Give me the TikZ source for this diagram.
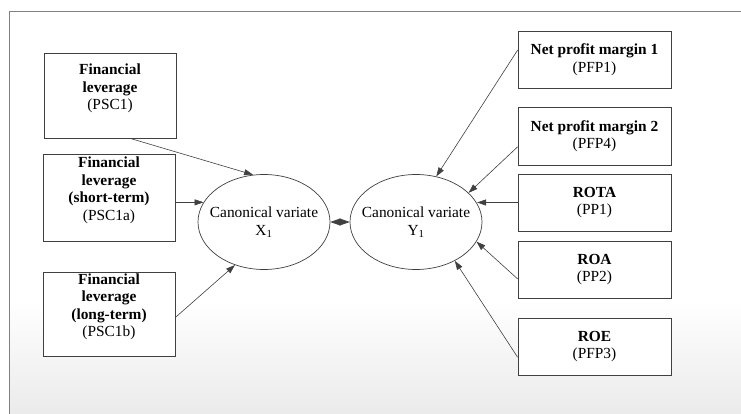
\documentclass[tikz,border=0pt]{standalone}
\usepackage{fontspec}
\setmainfont{Liberation Serif}
\usepackage{tikz}
\usetikzlibrary{shapes, arrows, positioning, arrows.meta, shadows}

\begin{document}
\begin{tikzpicture}[x=1pt, y=-1pt,
    font=\fontsize{15.4}{17.5}\selectfont,
    caja/.style={draw=black!75, fill=white, line width=0.7pt, align=center, inner sep=0pt,
        drop shadow={shadow xshift=1pt, shadow yshift=-1pt, opacity=0.2}},
    canonica/.style={ellipse, draw=black!75, fill=white, line width=0.7pt, align=center,
        minimum width=132pt, minimum height=95pt, inner xsep=-8pt, inner ysep=0pt},
    flecha/.style={draw=black!75, line width=0.6pt, -{Triangle[length=9pt, width=6pt]}}]
        % Fondo y marco
        \useasboundingbox (0,0) rectangle (741,414);
        \fill[white] (0,0) rectangle (741,414);
        \shade[top color=white, bottom color=black!8] (9,300) rectangle (741,414);
        \draw[black!50, line width=0.8pt] (741,11) -- (9,11) -- (9,414);
        % Variables canonicas
        \node[canonica] (X1) at (264,222) {Canonical variate\\X\textsubscript{1}};
        \node[canonica] (Y1) at (416,222) {Canonical variate\\Y\textsubscript{1}};
        % Cajas de la izquierda
        \node[caja, minimum width=132pt, minimum height=85pt] (fl1) at (110,95.5)
            {\textbf{Financial}\\\textbf{leverage}\\(PSC1)\\\mbox{}};
        \node[caja, minimum width=132pt, minimum height=87pt] (fl2) at (109,197.5)
            {\textbf{Financial}\\\textbf{leverage}\\\textbf{(short-term)}\\(PSC1a)\\\mbox{}};
        \node[caja, minimum width=132pt, minimum height=84pt] (fl3) at (109,314)
            {\textbf{Financial}\\\textbf{leverage}\\\textbf{(long-term)}\\(PSC1b)\\\mbox{}};
        % Cajas de la derecha
        \node[caja, minimum width=153pt, minimum height=57pt] (npm1) at (594.5,59.5)
            {\textbf{Net profit margin 1}\\(PFP1)};
        \node[caja, minimum width=153pt, minimum height=58pt] (npm2) at (594.5,136)
            {\textbf{Net profit margin 2}\\(PFP4)};
        \node[caja, minimum width=153pt, minimum height=57pt] (rota) at (594.5,202.5)
            {\textbf{ROTA}\\(PP1)};
        \node[caja, minimum width=153pt, minimum height=57pt] (roa) at (594.5,269.5)
            {\textbf{ROA}\\(PP2)};
        \node[caja, minimum width=153pt, minimum height=57pt] (roe) at (594.5,346.5)
            {\textbf{ROE}\\(PFP3)};
        % Flechas
        \draw[flecha] (fl1.-65) -- (X1.103);
        \draw[flecha] (fl2.east |- X1.162) -- (X1.162);
        \draw[flecha] (fl3.-3.5) -- (X1.236);
        \draw[flecha] (npm1.173) -- (Y1.66.5);
        \draw[flecha] (npm2.188) -- (Y1.29);
        \draw[flecha] (rota.west) -- (rota.west -| Y1.17.5);
        \draw[flecha] (roa.187) -- (Y1.-18.4);
        \draw[flecha] (roe.188) -- (Y1.-45);
        \draw[draw=black!75, line width=0.6pt,
            {Triangle[length=10pt, width=7pt]}-{Triangle[length=10pt, width=7pt]}] (X1) -- (Y1);
    \end{tikzpicture}
\end{document}
